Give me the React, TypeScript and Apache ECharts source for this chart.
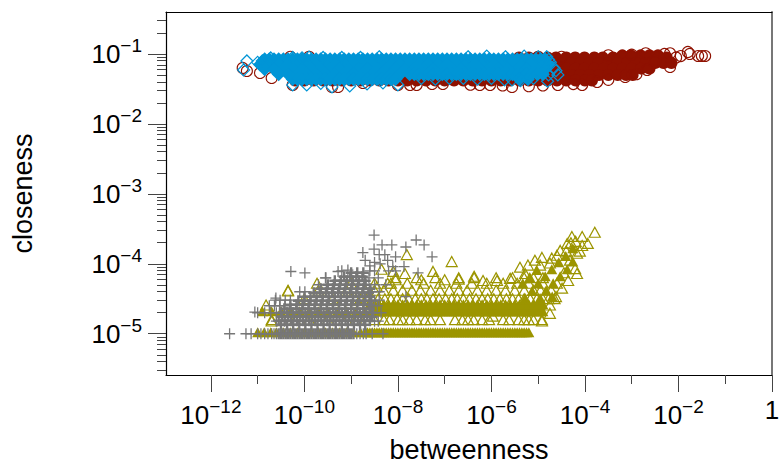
import React, { useEffect, useRef } from "react";
import * as echarts from "echarts";

// All point values are log10 exponents: [log10 betweenness, log10 closeness]
const xMajor = [-12, -10, -8, -6, -4, -2, 0];
const xMinor = [-11, -9, -7, -5, -3, -1];
const yMajor = [-1, -2, -3, -4, -5];
const yMinor = [0.4, 0.3, 0.2, 0.09, 0.08, 0.07, 0.06, 0.05, 0.04, 0.03, 0.02, 0.009, 0.008, 0.007, 0.006, 0.005, 0.004, 0.003, 0.002, 0.0009, 0.0008, 0.0007, 0.0006, 0.0005, 0.0004, 0.0003, 0.0002, 0.00009, 0.00008, 0.00007, 0.00006, 0.00005, 0.00004, 0.00003, 0.00002, 0.000009, 0.000008, 0.000007, 0.000006, 0.000005, 0.000004, 0.000003];

const redRows: [number, number[]][] = [
  [-1.02, [-3.2, -3.02, -2.81, -2.62, -2.44]],
  [-1.05, [-5.41, -5.2, -5.01, -4.8, -4.62, -4.4, -4.21, -4.01, -3.8, -3.62, -3.4, -3.21, -3.0, -2.8, -2.6, -2.42, -2.25]],
  [-1.13, [-5.3, -5.1, -4.91, -4.7, -4.5, -4.31, -4.1, -3.9, -3.71, -3.5, -3.3, -3.1, -2.91, -2.7, -2.5, -2.32, -2.15]],
  [-1.21, [-5.4, -5.2, -5.0, -4.81, -4.6, -4.4, -4.2, -4.01, -3.8, -3.6, -3.4, -3.2, -3.0, -2.8, -2.62]],
  [-1.3, [-5.3, -5.1, -4.9, -4.7, -4.5, -4.3, -4.11, -3.9, -3.7, -3.5, -3.3, -3.12, -2.98]],
  [-1.38, [-10.2, -10.0, -9.8, -9.6, -9.4, -9.2, -9.0, -8.8, -8.6, -8.4, -8.2, -8.0, -7.8, -7.6, -7.4, -7.2, -7.0, -6.8, -6.6, -6.4, -6.2, -6.0, -5.8, -5.6, -5.4, -5.2, -5.0, -4.8, -4.6, -4.4, -4.2, -4.0, -3.85]],
];
const redEdge: [number, number][] = [
  [-11.32, -1.2], [-11.23, -1.243], [-10.95, -1.271], [-10.7, -1.343], [-10.25, -1.443], [-9.41, -1.471], [-9.28, -1.471], [-8.75, -1.414], [-8.0, -1.443], [-7.74, -1.443], [-7.6, -1.443], [-7.27, -1.429], [-7.04, -1.429],
  [-6.45, -1.44], [-6.25, -1.443], [-6.03, -1.443], [-5.76, -1.45], [-5.56, -1.471], [-5.2, -1.46], [-4.9, -1.45], [-4.58, -1.443], [-4.25, -1.43], [-4.06, -1.443], [-3.74, -1.4], [-3.5, -1.37], [-3.14, -1.329], [-2.9, -1.29], [-2.67, -1.229], [-2.18, -1.186],
  [-2.5, -1.1], [-2.3, -1.0], [-2.18, -0.99], [-2.05, -1.05], [-1.95, -1.03], [-1.8, -0.971], [-1.76, -1.0], [-1.58, -1.029], [-1.5, -1.029], [-1.43, -1.029],
  [-3.5, -1.02], [-3.0, -1.01], [-2.7, -0.99], [-4.5, -1.04], [-5.0, -1.04], [-9.9, -1.04], [-10.3, -1.04],
];
const blueRows: [number, number[]][] = [
  [-1.075, [-10.85, -10.75, -10.65, -10.55, -10.45, -10.35, -10.25, -10.15, -10.05, -9.95, -9.85, -9.75, -9.65, -9.55, -9.45, -9.35, -9.25, -9.15, -9.05, -8.95, -8.85, -8.75, -8.65, -8.55, -8.45, -8.35, -8.25, -8.15, -8.05, -7.95, -7.85, -7.75, -7.65, -7.55, -7.45, -7.35, -7.25, -7.15, -7.05, -6.95, -6.85, -6.75, -6.65, -6.55, -6.45, -6.35, -6.25, -6.15, -6.05, -5.95, -5.85, -5.75, -5.65, -5.55, -5.45, -5.35, -5.25, -5.15, -5.05, -4.95, -4.85]],
  [-1.15, [-10.95, -10.75, -10.55, -10.35, -10.15, -9.95, -9.75, -9.55, -9.35, -9.15, -8.95, -8.75, -8.55, -8.35, -8.15, -7.95, -7.75, -7.55, -7.35, -7.15, -6.95, -6.75, -6.55, -6.35, -6.15, -5.95, -5.75, -5.55, -5.35, -5.15, -4.95, -4.78]],
  [-1.22, [-10.85, -10.65, -10.45, -10.25, -10.05, -9.85, -9.65, -9.45, -9.25, -9.05, -8.85, -8.65, -8.45, -8.25, -8.05, -7.85, -7.65, -7.45, -7.25, -7.05, -6.85, -6.65, -6.45, -6.25, -6.05, -5.85, -5.65, -5.45, -5.25, -5.05, -4.85]],
  [-1.29, [-10.55, -10.35, -10.15, -9.95, -9.75, -9.55, -9.35, -9.15, -8.95, -8.75, -8.55, -8.35, -8.15, -7.95, -7.75, -7.65, -7.55, -7.45, -7.35, -7.25, -7.15, -7.05, -6.95, -6.85, -6.75, -6.65, -6.55, -6.45, -6.35, -6.25, -6.15, -6.05, -5.95, -5.85, -5.75, -5.65, -5.55, -5.45, -5.35, -5.25, -5.15, -5.02, -4.9]],
  [-1.36, [-10.25, -10.15, -10.05, -9.95, -9.85, -9.75, -9.65, -9.55, -9.45, -9.35, -9.25, -9.15, -9.05, -8.95, -8.85, -8.75, -8.65, -8.55, -8.45, -8.35, -8.25, -8.15, -8.05, -5.4, -5.22]],
];
const blueEdge: [number, number][] = [
  [-11.3, -1.229], [-11.23, -1.1], [-11.0, -1.12], [-10.72, -1.057], [-10.9, -1.1], [-10.25, -1.05], [-10.05, -1.055], [-9.9, -1.045], [-9.6, -1.05], [-9.2, -1.05], [-8.8, -1.05], [-8.4, -1.04],
  [-10.25, -1.443], [-9.95, -1.443], [-9.65, -1.42], [-9.41, -1.471], [-9.03, -1.457], [-8.66, -1.429], [-8.32, -1.414], [-8.0, -1.443], [-7.5, -1.35], [-7.2, -1.36], [-6.9, -1.35], [-6.6, -1.35], [-6.3, -1.36], [-6.0, -1.35],
  [-5.72, -1.37], [-5.56, -1.37], [-5.38, -1.38], [-5.1, -1.35],
  [-4.82, -1.04], [-4.78, -1.08], [-4.74, -1.12], [-4.8, -1.39], [-4.58, -1.3], [-4.66, -1.2], [-4.62, -1.24], [-4.78, -1.3], [-5.0, -1.04], [-5.3, -1.03], [-5.7, -1.04], [-6.1, -1.03], [-6.5, -1.04],
];
const oliveFilledRows: [number, number[]][] = [
  [-5, [-11.0, -10.86, -10.72, -10.6, -10.45, -10.3, -10.15, -10.0, -9.85, -9.7, -9.55, -9.4, -9.25, -9.1, -8.95, -8.8, -8.7, -8.65, -8.6, -8.55, -8.5, -8.45, -8.4, -8.35, -8.3, -8.25, -8.2, -8.15, -8.1, -8.05, -8.0, -7.95, -7.9, -7.85, -7.8, -7.75, -7.7, -7.65, -7.6, -7.55, -7.5, -7.45, -7.4, -7.35, -7.3, -7.25, -7.2, -7.15, -7.1, -7.05, -7.0, -6.95, -6.9, -6.85, -6.8, -6.75, -6.7, -6.65, -6.6, -6.55, -6.5, -6.45, -6.4, -6.35, -6.3, -6.25, -6.2, -6.15, -6.1, -6.05, -6.0, -5.95, -5.9, -5.85, -5.8, -5.75, -5.7, -5.65, -5.6, -5.55, -5.5, -5.45, -5.4, -5.35, -5.3, -5.25, -5.2]],
  [-4.7, [-10.9, -10.7, -10.5, -10.3, -10.1, -9.9, -9.7, -9.5, -9.3, -9.1, -8.9, -8.7, -8.55, -8.5, -8.45, -8.4, -8.35, -8.3, -8.25, -8.2, -8.15, -8.1, -8.05, -8.0, -7.95, -7.9, -7.85, -7.8, -7.75, -7.7, -7.65, -7.6, -7.55, -7.5, -7.45, -7.4, -7.35, -7.3, -7.25, -7.2, -7.15, -7.1, -7.05, -7.0, -6.95, -6.9, -6.85, -6.8, -6.75, -6.7, -6.65, -6.6, -6.55, -6.5, -6.45, -6.4, -6.35, -6.3, -6.25, -6.2, -6.15, -6.1, -6.05, -6.0, -5.95, -5.9, -5.85, -5.8, -5.75, -5.7, -5.65, -5.6, -5.55, -5.5, -5.45, -5.4, -5.35, -5.3, -5.25, -5.2, -5.15, -5.1, -5.05, -5.0, -4.95, -4.9]],
  [-4.6, [-8.6, -8.5, -8.4, -8.3, -8.2, -8.1, -8.0, -7.9, -7.8, -7.7, -7.6, -7.5, -7.4, -7.3, -7.2, -7.1, -7.0, -6.9, -6.8, -6.7, -6.6, -6.5, -6.4, -6.3, -6.2, -6.1, -6.0, -5.9, -5.8, -5.7, -5.6, -5.5, -5.4, -5.3, -5.2, -5.1, -5.0, -4.9]],
];
const oliveFilledPairs: [number, number][] = [
  [-5.28, -4.51], [-5.13, -4.41], [-4.96, -4.51], [-5.0, -4.3], [-4.83, -4.4], [-4.85, -4.2], [-4.68, -4.3], [-4.7, -4.49], [-4.71, -4.1], [-4.53, -4.2], [-4.56, -4.0], [-4.38, -4.1], [-4.41, -3.91], [-4.26, -3.99], [-4.26, -3.8], [-5.18, -4.21], [-5.03, -4.11], [-5.33, -4.3],
];
const oliveHollowRows: [number, number[]][] = [
  [-4.82, [-10.7, -10.2, -9.9, -9.5, -9.1, -8.9, -8.7, -8.5, -8.3, -8.18, -8.0, -7.9, -7.75, -7.6, -7.42, -7.3, -7.1, -6.78, -6.62, -6.5, -6.38, -6.2, -6.05, -5.75, -5.62, -5.42, -5.3, -5.2, -5.1, -4.92]],
  [-4.52, [-10.0, -9.4, -8.9, -8.8, -8.67, -8.55, -8.42, -8.28, -8.15, -8.02, -7.9, -7.77, -7.63, -7.5, -7.38, -7.25, -7.12, -6.98, -6.85, -6.73, -6.6, -6.47, -6.33, -6.2, -6.08, -5.95, -5.82, -5.68, -5.55, -5.42, -5.3, -5.17, -5.03, -4.9, -4.78, -4.65]],
  [-4.4, [-10.35, -9.7, -9.1, -8.7, -8.5, -8.3, -8.1, -7.9, -7.7, -7.52, -7.3, -7.1, -6.9, -6.7, -6.52, -6.3, -6.1, -5.9, -5.7, -5.5, -5.3, -5.1, -4.95, -4.72]],
  [-4.3, [-9.73, -9.0, -8.5, -8.15, -7.8, -7.45, -7.1, -6.75, -6.42, -6.1, -5.75, -5.45, -5.2, -4.9, -4.6]],
  [-4.22, [-8.05, -7.6, -7.2, -6.7, -6.37, -5.9, -5.55, -5.3, -5.1, -4.9]],
];
const oliveEdge: [number, number][] = [
  [-4.28, -3.63], [-4.06, -3.63], [-3.79, -3.57], [-4.38, -3.73], [-4.06, -3.76], [-3.94, -3.73], [-4.17, -4.16], [-4.92, -3.93], [-5.39, -4.07], [-5.22, -4.04], [-4.75, -4.01], [-4.92, -4.84], [-4.75, -4.73], [-4.75, -4.61], [-5.97, -4.77],
  [-6.85, -3.99], [-7.25, -4.13], [-7.81, -3.89], [-6.7, -4.24], [-6.37, -4.2], [-6.18, -4.26], [-5.88, -4.26],
  [-4.21, -4.09], [-4.36, -4.26], [-4.49, -4.37], [-4.62, -4.49], [-4.53, -3.83], [-4.71, -3.94], [-4.96, -4.04], [-5.07, -3.97], [-4.17, -3.87], [-4.11, -3.84], [-4.32, -3.97], [-5.28, -4.16], [-5.6, -4.23], [-4.3, -3.72], [-4.2, -3.7], [-4.4, -3.84], [-4.6, -3.9], [-4.45, -4.15],
  [-10.82, -4.61], [-10.35, -4.41], [-10.7, -4.84], [-8.35, -4.1], [-8.1, -4.13], [-7.85, -4.16], [-8.22, -4.3], [-8.05, -4.25], [-8.45, -4.35], [-7.5, -4.25], [-7.0, -4.25],
];
const greyCoreRows: [number, number[]][] = [
  [-5, [-10.55, -10.5, -10.45, -10.4, -10.35, -10.3, -10.25, -10.2, -10.15, -10.1, -10.05, -10.0, -9.95, -9.9, -9.85, -9.8, -9.75, -9.7, -9.65, -9.6, -9.55, -9.5, -9.45, -9.4, -9.35, -9.3, -9.25, -9.2, -9.15, -9.1, -9.05, -9.0, -8.95]],
  [-4.871, [-10.5, -10.37, -10.24, -10.11, -9.98, -9.85, -9.72, -9.59, -9.46, -9.33, -9.2, -9.07, -8.94, -8.81, -8.7]],
  [-4.814, [-10.55, -10.42, -10.29, -10.16, -10.03, -9.9, -9.77, -9.64, -9.51, -9.38, -9.25, -9.12, -8.99, -8.86, -8.73, -8.6]],
  [-4.757, [-10.48, -10.35, -10.22, -10.09, -9.96, -9.83, -9.7, -9.57, -9.44, -9.31, -9.18, -9.05, -8.92, -8.79, -8.66, -8.55]],
  [-4.7, [-10.5, -10.37, -10.24, -10.11, -9.98, -9.85, -9.72, -9.59, -9.46, -9.33, -9.2, -9.07, -8.94, -8.81, -8.68, -8.55]],
  [-4.643, [-10.43, -10.3, -10.17, -10.04, -9.91, -9.78, -9.65, -9.52, -9.39, -9.26, -9.13, -9.0, -8.87, -8.74, -8.61]],
  [-4.586, [-10.3, -10.17, -10.04, -9.91, -9.78, -9.65, -9.52, -9.39, -9.26, -9.13, -9.0, -8.87, -8.74, -8.61]],
  [-4.529, [-10.13, -10.0, -9.87, -9.74, -9.61, -9.48, -9.35, -9.22, -9.09, -8.96, -8.83, -8.7, -8.57]],
  [-4.471, [-10.0, -9.87, -9.74, -9.61, -9.48, -9.35, -9.22, -9.09, -8.96, -8.83, -8.7, -8.6]],
  [-4.414, [-9.8, -9.67, -9.54, -9.41, -9.28, -9.15, -9.02, -8.89, -8.76, -8.63]],
  [-4.357, [-9.65, -9.52, -9.39, -9.26, -9.13, -9.0, -8.87, -8.74, -8.6]],
  [-4.3, [-9.5, -9.37, -9.24, -9.11, -8.98, -8.85, -8.72]],
  [-4.243, [-9.35, -9.22, -9.09, -8.96, -8.83, -8.7]],
  [-4.186, [-9.15, -9.02, -8.89, -8.76]],
  [-4.129, [-9.0, -8.87, -8.74]],
];
const greyRows: [number, number[]][] = [
  [-5, [-11.6, -11.25, -11.14, -11.0, -10.93, -10.85, -10.78, -10.7, -10.65, -10.6, -8.88, -8.81, -8.74, -8.68, -8.55, -8.32]],
  [-4.82, [-10.6, -10.43, -8.5, -8.42]],
  [-4.7, [-11.0, -10.85, -10.72, -10.6, -8.52, -8.36]],
  [-4.6, [-10.75, -10.64, -10.53, -10.42, -8.55, -8.44]],
  [-4.52, [-10.62, -10.52, -10.41, -10.3, -8.5, -8.4]],
  [-4.4, [-10.1, -9.99, -8.56, -8.4]],
  [-4.3, [-9.7, -8.68, -8.5, -8.26]],
  [-4.2, [-9.55, -8.62, -8.42]],
  [-4.1, [-9.2, -8.6, -8.5, -8.2, -8.05]],
];
const greyEdge: [number, number][] = [
  [-8.51, -3.59], [-8.34, -3.73], [-8.13, -3.73], [-8.51, -3.79], [-7.83, -3.76], [-7.61, -3.66], [-8.75, -3.84], [-8.28, -3.87], [-10.29, -4.11], [-9.99, -4.13], [-9.28, -4.11], [-9.07, -4.09], [-9.54, -4.2], [-7.57, -4.13], [-8.11, -4.04], [-11.06, -4.69], [-10.61, -4.49], [-7.44, -3.73], [-7.27, -3.9], [-7.87, -4.04], [-7.83, -4.47],
  [-8.7, -3.95], [-8.5, -3.98], [-8.38, -4.0], [-8.6, -4.03], [-8.4, -3.87], [-8.22, -3.95], [-8.05, -3.9],
];

const rowsToPoints = (rows: [number, number[]][]) =>
  rows.flatMap(([y, xs]) => xs.map((x) => [Math.pow(10, x), Math.pow(10, y)]));
const pairsToPoints = (pairs: [number, number][]) =>
  pairs.map(([x, y]) => [Math.pow(10, x), Math.pow(10, y)]);

const RED = "#8f1100";
const BLUE = "#0095d6";
const OLIVE = "#9c9500";
const GREY = "#777777";
const TICK = "#444444";
const FONT = "'Liberation Sans', Arial, sans-serif";
const PLUS = "path://M0 5H10M5 0V10";

const rich = {
  b: { fontSize: 26, fontFamily: FONT, color: "#000" },
  s: { fontSize: 19, fontFamily: FONT, color: "#000", padding: [0, 0, 17, 0] },
};
const powerLabel = (v: number) => {
  const e = Math.round(Math.log10(v));
  return e === 0 ? "{b|1}" : `{b|10}{s|\u2212${Math.abs(e)}}`;
};

const hollow = (color: string, width: number) => ({ color: "rgba(0,0,0,0)", borderColor: color, borderWidth: width, opacity: 1 });
const solid = (color: string) => ({ color, opacity: 1 });

export default function App() {
  const ref = useRef<HTMLDivElement>(null);
  useEffect(() => {
    const chart = echarts.init(ref.current!, undefined, { renderer: "svg" });
    const xr: [number, number] = [Math.pow(10, -12.96), 1];
    const yr: [number, number] = [Math.pow(10, -5.59), Math.pow(10, -0.4)];
    const grid = { left: 166, top: 12, width: 606, height: 363, outerBoundsMode: "none" };
    const hideX = { type: "log", min: xr[0], max: xr[1], axisLabel: { show: false }, splitLine: { show: false } };
    const hideY = { type: "log", min: yr[0], max: yr[1], axisLabel: { show: false }, splitLine: { show: false } };
    const tri = { type: "scatter", symbol: "triangle", symbolSize: [11, 10], symbolOffset: [0, -1.5] };
    chart.setOption({
      animation: false,
      backgroundColor: "#fff",
      grid,
      xAxis: [
        {
          type: "log", min: xr[0], max: xr[1], position: "bottom",
          name: "betweenness", nameLocation: "middle", nameGap: 61,
          nameTextStyle: { fontSize: 27, fontFamily: FONT, color: "#000" },
          axisLine: { show: true, onZero: false, lineStyle: { color: "#000", width: 1.2 } },
          axisTick: { show: true, length: 17, customValues: xMajor.map((e) => Math.pow(10, e)), lineStyle: { color: TICK } },
          axisLabel: { show: true, margin: 22, customValues: xMajor.map((e) => Math.pow(10, e)), formatter: powerLabel, rich, hideOverlap: false },
          splitLine: { show: false },
        },
        {
          ...hideX, position: "bottom",
          axisLine: { show: false },
          axisTick: { show: true, length: 9, customValues: xMinor.map((e) => Math.pow(10, e)), lineStyle: { color: TICK } },
        },
        { ...hideX, position: "top", axisLine: { show: true, onZero: false, lineStyle: { color: "#000", width: 1.2 } }, axisTick: { show: false } },
      ],
      yAxis: [
        {
          type: "log", min: yr[0], max: yr[1], position: "left",
          name: "closeness", nameLocation: "middle", nameGap: 130,
          nameTextStyle: { fontSize: 27, fontFamily: FONT, color: "#000" },
          axisLine: { show: true, onZero: false, lineStyle: { color: "#000", width: 1.2 } },
          axisTick: { show: true, length: 18, customValues: yMajor.map((e) => Math.pow(10, e)), lineStyle: { color: TICK } },
          axisLabel: { show: true, margin: 24, customValues: yMajor.map((e) => Math.pow(10, e)), formatter: powerLabel, rich, hideOverlap: false },
          splitLine: { show: false },
        },
        {
          ...hideY, position: "left",
          axisLine: { show: false },
          axisTick: { show: true, length: 9, customValues: yMinor, lineStyle: { color: TICK } },
        },
        { ...hideY, position: "right", axisLine: { show: true, onZero: false, lineStyle: { color: GREY, width: 2 } }, axisTick: { show: false } },
      ],
      series: [
        { type: "scatter", symbol: "circle", symbolSize: 12, itemStyle: solid(RED), data: rowsToPoints(redRows) },
        { type: "scatter", symbol: "circle", symbolSize: 11, itemStyle: hollow(RED, 1.1), data: pairsToPoints(redEdge) },
        { ...tri, itemStyle: solid(OLIVE), data: rowsToPoints(oliveFilledRows) },
        { ...tri, itemStyle: solid(OLIVE), data: pairsToPoints(oliveFilledPairs) },
        { ...tri, itemStyle: hollow(OLIVE, 1.2), data: rowsToPoints(oliveHollowRows) },
        { ...tri, itemStyle: hollow(OLIVE, 1.2), data: pairsToPoints(oliveEdge) },
        { type: "scatter", symbol: PLUS, symbolSize: 11, itemStyle: hollow(GREY, 2.4), data: rowsToPoints(greyCoreRows) },
        { type: "scatter", symbol: PLUS, symbolSize: 11, itemStyle: hollow(GREY, 1.3), data: rowsToPoints(greyRows) },
        { type: "scatter", symbol: PLUS, symbolSize: 11, itemStyle: hollow(GREY, 1.3), data: pairsToPoints(greyEdge) },
        { type: "scatter", symbol: "diamond", symbolSize: 14, itemStyle: solid(BLUE), data: rowsToPoints(blueRows) },
        { type: "scatter", symbol: "diamond", symbolSize: 12, itemStyle: hollow(BLUE, 1.2), data: pairsToPoints(blueEdge) },
      ],
    });
    return () => chart.dispose();
  }, []);
  return <div ref={ref} style={{ position: "absolute", left: 0, top: 0, width: 783, height: 465 }} />;
}
